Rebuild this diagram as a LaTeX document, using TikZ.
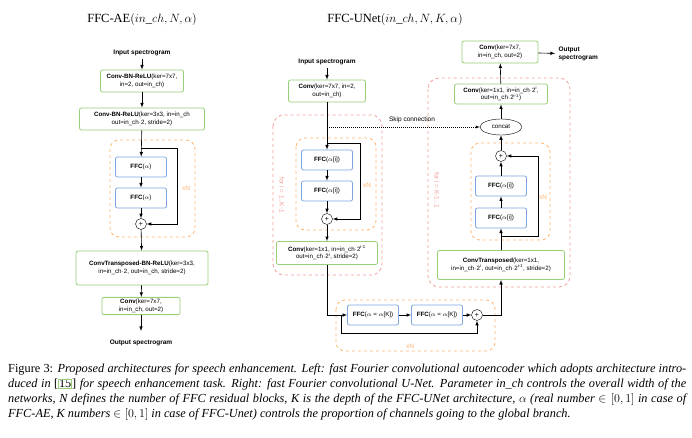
\documentclass[tikz,border=0pt]{standalone}
\usepackage{fontspec}
\setmainfont{Liberation Serif}
\newfontfamily\dia{Liberation Sans}
\usepackage{amsmath, amssymb}
\usetikzlibrary{calc, shapes.geometric, positioning}
\definecolor{boxgreen}{HTML}{97D077}
\definecolor{boxblue}{HTML}{7EA6E0}
\definecolor{loopor}{HTML}{FFB570}
\definecolor{looppk}{HTML}{F19C99}
\tikzset{
  conv/.style={draw=boxgreen, thick, rounded corners=2pt, fill=white, align=center,
    font=\dia\fontsize{6.2}{7.5}\selectfont, inner sep=2pt},
  ffc/.style={draw=boxblue, thick, rounded corners=2pt, fill=white, align=center,
    font=\dia\fontsize{6.2}{7.5}\selectfont, minimum width=51pt, minimum height=20pt},
  plus/.style={circle, draw, fill=white, inner sep=0pt, minimum size=11pt, font=\dia\fontsize{7}{7}\selectfont},
  lbl/.style={font=\dia\bfseries\fontsize{6.5}{7.5}\selectfont, align=left},
  arr/.style={->, >=latex, semithick},
  orloop/.style={draw=loopor, dashed, thick, rounded corners=9pt},
  pkloop/.style={draw=looppk, dashed, thick, rounded corners=11pt},
  rep/.style={font=\dia\fontsize{6.5}{7.5}\selectfont}
}
\begin{document}
\begin{tikzpicture}[x=1pt, y=-1pt]
  \useasboundingbox (0,0) rectangle (692,438);
  % left: FFC-AE
  \node[font=\fontsize{12.5}{14}\selectfont] (tae) at (142,20) {FFC-AE$(in\_ch, N, \alpha)$};
  \node[lbl] (ina) at (142,53) {Input spectrogram};
  \draw[orloop] (110,140) rectangle (195,237);
  \node[rep, text=loopor] at (186,188) {xN};
  \node[conv, minimum width=83pt, minimum height=22pt] (a1) at (142,81) {\textbf{Conv-BN-ReLU}(ker=7x7,\\in=2, out=in\_ch)};
  \node[conv, minimum width=125pt, minimum height=22pt] (a2) at (142,119) {\textbf{Conv-BN-ReLU}(ker=3x3, in=in\_ch\\out=in\_ch$\cdot$2, stride=2)};
  \node[ffc] (af1) at (141,167) {\textbf{FFC}($\alpha$)};
  \node[ffc] (af2) at (141,198) {\textbf{FFC}($\alpha$)};
  \node[plus] (ap) at (141,224) {+};
  \node[conv, minimum width=132pt, minimum height=34pt] (a3) at (142,268) {\textbf{ConvTransposed-BN-ReLU}(ker=3x3,\\in=in\_ch$\cdot$2, out=in\_ch, stride=2)};
  \node[conv, minimum width=78pt, minimum height=17pt] (a4) at (141,306) {\textbf{Conv}(ker=7x7,\\in=in\_ch, out=2)};
  \node[lbl] (outa) at (141,343) {Output spectrogram};
  \coordinate (ca) at (141,148);
  \coordinate (oa) at (141,331);
  \draw[arr] (ina) -- (a1);
  \draw[arr] (a1) -- (a2);
  \draw[arr] (a2) -- (af1);
  \draw[arr] (af1) -- (af2);
  \draw[arr] (af2) -- (ap);
  \draw[arr] (ca) -| (177,224) -- (ap);
  \draw[arr] (ap) -- (a3);
  \draw[arr] (a3) -- (a4);
  \draw[arr] (a4) -- (oa);
  % right: FFC-UNet
  \node[font=\fontsize{12.5}{14}\selectfont] (tun) at (395,20) {FFC-UNet$(in\_ch, N, K, \alpha)$};
  \draw[pkloop] (273,115) rectangle (382,275);
  \draw[pkloop] (428,78) rectangle (570,287);
  \draw[orloop] (296,138) rectangle (376,230);
  \draw[orloop] (471,143) rectangle (550,240);
  \draw[orloop] (336,300) rectangle (495,351);
  \node[rep, text=looppk, rotate=-90] at (282,195) {for i = 1..K-1};
  \node[rep, text=looppk, rotate=-90] at (437,190) {for i = K-1..1};
  \node[rep, text=loopor] at (367,185) {xN};
  \node[rep, text=loopor] at (543,197) {xN};
  \node[rep, text=loopor] at (410,346) {xN};
  \node[lbl] (inu) at (327,62) {Input spectrogram};
  \node[conv, minimum width=77pt, minimum height=22pt] (u1) at (327,91) {\textbf{Conv}(ker=7x7, in=2,\\out=in\_ch)};
  \node[ffc] (uf1) at (327,160) {\textbf{FFC}($\alpha$[i])};
  \node[ffc] (uf2) at (327,191) {\textbf{FFC}($\alpha$[i])};
  \node[plus] (up1) at (327,219) {+};
  \node[conv, minimum width=101pt, minimum height=23pt] (u2) at (327,253) {\textbf{Conv}(ker=1x1, in=in\_ch$\cdot$2$^{\text{i-1}}$\\out=in\_ch$\cdot$2$^{\text{i}}$, stride=2)};
  \node[ffc] (uk1) at (373,315) {\textbf{FFC}($\alpha$ = $\alpha$[K])};
  \node[ffc] (uk2) at (437,315) {\textbf{FFC}($\alpha$ = $\alpha$[K])};
  \node[plus] (up2) at (477,315) {+};
  \node[conv, minimum width=127pt, minimum height=29pt] (u3) at (501,265) {\textbf{ConvTransposed}(ker=1x1,\\in=in\_ch$\cdot$2$^{\text{i}}$, out=in\_ch$\cdot$2$^{\text{i-1}}$, stride=2)};
  \node[ffc] (uf3) at (501,218) {\textbf{FFC}($\alpha$[i])};
  \node[ffc] (uf4) at (501,186) {\textbf{FFC}($\alpha$[i])};
  \node[plus] (up3) at (501,156) {+};
  \node[ellipse, draw, fill=white, minimum width=42pt, minimum height=16pt, inner sep=0pt,
    font=\dia\fontsize{6.2}{7}\selectfont] (cat) at (501,127) {concat};
  \node[conv, minimum width=93pt, minimum height=20pt] (u4) at (501,94) {\textbf{Conv}(ker=1x1, in=in\_ch$\cdot$2$^{\text{i}}$,\\out=in\_ch$\cdot$2$^{\text{i-1}}$)};
  \node[conv, minimum width=76pt, minimum height=22pt] (u5) at (500,52) {\textbf{Conv}(ker=7x7,\\in=in\_ch, out=2)};
  \node[lbl, anchor=west] (outu) at (555,54) {Output\\spectrogram};
  \node[rep] (skl) at (412,120) {Skip connection};
  \coordinate (sk) at (327,127);
  \coordinate (cu1) at (327,143);
  \coordinate (cu2) at (341,315);
  \coordinate (cu3) at (501,236);
  \draw[arr, thin, dash pattern=on 1pt off 1pt] (sk) -- (cat);
  \draw[arr] (inu) -- (u1);
  \draw[arr] (u1) -- (uf1);
  \draw[arr] (uf1) -- (uf2);
  \draw[arr] (uf2) -- (up1);
  \draw[arr] (cu1) -| (360,219) -- (up1);
  \draw[arr] (up1) -- (u2);
  \draw[arr] (u2) |- (uk1);
  \draw[arr] (uk1) -- (uk2);
  \draw[arr] (uk2) -- (up2);
  \draw[arr] (cu2) |- (477,333) -- (up2);
  \draw[arr] (up2) -| (u3);
  \draw[arr] (u3) -- (uf3);
  \draw[arr] (uf3) -- (uf4);
  \draw[arr] (uf4) -- (up3);
  \draw[arr] (cu3) -| (538,156) -- (up3);
  \draw[arr] (up3) -- (cat);
  \draw[arr] (cat) -- (u4);
  \draw[arr] (u4) -- (u5);
  \draw[arr] (u5) -- (outu);
  % caption
  \node[anchor=north west, text width=678pt, align=justify, inner sep=0pt,
    font=\fontsize{12.3}{15}\selectfont] (cap) at (8,364) {Figure 3: \textit{Proposed architectures for speech enhancement. Left: fast Fourier convolutional autoencoder which adopts architecture introduced in {\upshape[{\fboxsep=0pt\fboxrule=0.8pt\color{boxgreen}\fbox{\color{black}15}}]} for speech enhancement task. Right: fast Fourier convolutional U-Net. Parameter in\_ch controls the overall width of the networks, N defines the number of FFC residual blocks, K is the depth of the FFC-UNet architecture, $\alpha$ (real number $\in[0,1]$ in case of FFC-AE, K numbers $\in[0,1]$ in case of FFC-Unet) controls the proportion of channels going to the global branch.}};
\end{tikzpicture}
\end{document}
